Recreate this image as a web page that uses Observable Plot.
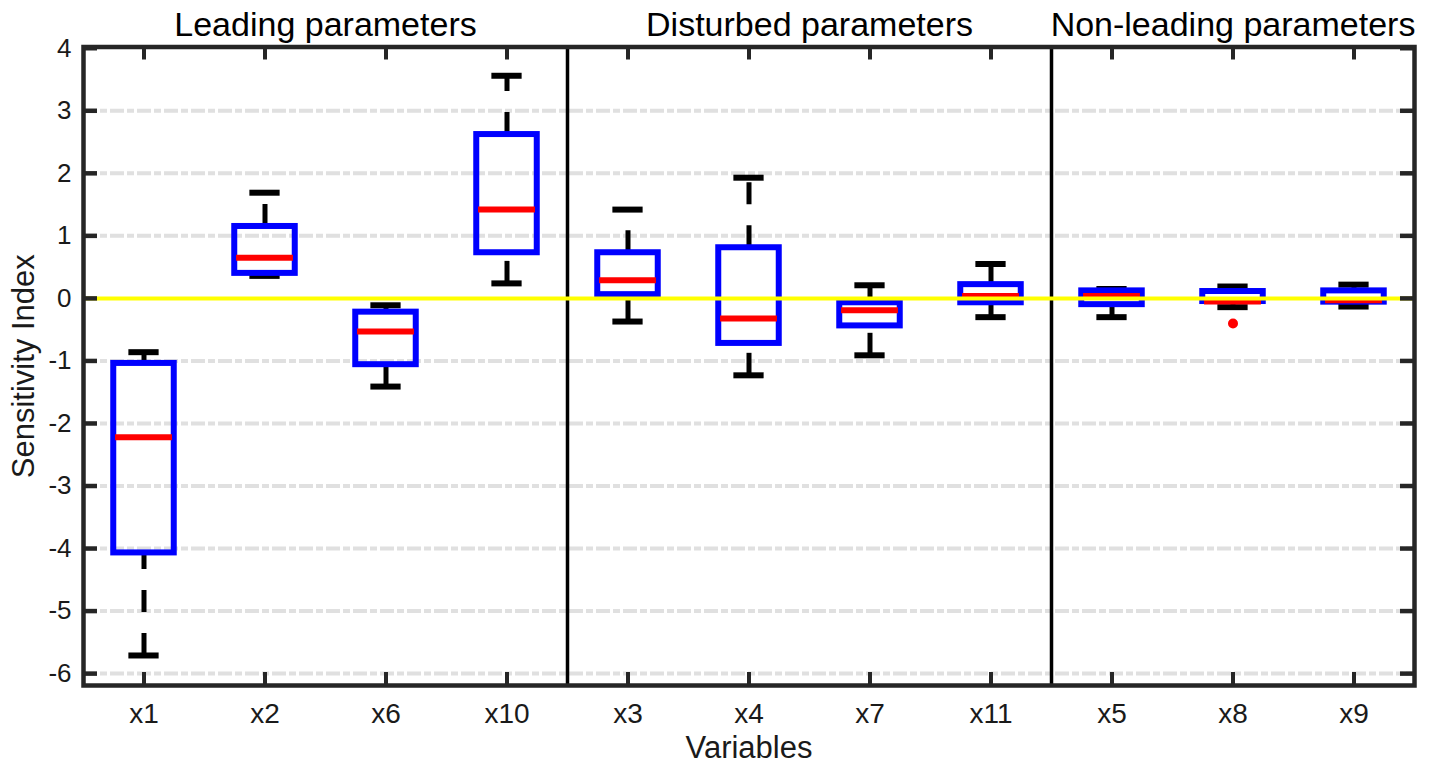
<!DOCTYPE html>
<html>
<head>
<meta charset="utf-8">
<script src="https://cdn.jsdelivr.net/npm/d3@7"></script>
<script src="https://cdn.jsdelivr.net/npm/@observablehq/plot@0.6"></script>
<style>
  html, body { margin: 0; padding: 0; background: #fff; }
  #chart svg { display: block; font-family: "Liberation Sans", Arial, Helvetica, sans-serif; }
</style>
</head>
<body>
<div id="chart"></div>
<script>
// ---- data ----
const categories = ["x1", "x2", "x6", "x10", "x3", "x4", "x7", "x11", "x5", "x8", "x9"];
const groupNames = ["Leading parameters", "Disturbed parameters", "Non-leading parameters"];
const groupSizes = [4, 4, 3];
const whiskerLow  = [-5.71, 0.36, -1.41, 0.24, -0.37, -1.23, -0.91, -0.30, -0.30, -0.14, -0.13];
const quartile1   = [-4.07, 0.40, -1.06, 0.73,  0.06, -0.72, -0.44, -0.07, -0.10, -0.05, -0.06];
const medians     = [-2.22, 0.65, -0.53, 1.42,  0.29, -0.32, -0.19,  0.04,  0.04, -0.05, -0.03];
const quartile3   = [-1.04, 1.15, -0.22, 2.62,  0.73,  0.81, -0.07,  0.22,  0.12,  0.11,  0.12];
const whiskerHigh = [-0.86, 1.69, -0.11, 3.56,  1.42,  1.93,  0.21,  0.55,  0.15,  0.19,  0.22];
const outlierVars   = ["x8"];
const outlierValues = [-0.40];
const yTicks = [-6, -5, -4, -3, -2, -1, 0, 1, 2, 3, 4];
const referenceLine = [0];
const yLabel = "Sensitivity Index";
const xLabel = "Variables";

// ---- derived tables ----
const pos = categories.map((_, i) => i + 1);
const stats = categories.map((c, i) => ({
  name: c, i: i + 1,
  lo: whiskerLow[i], q1: quartile1[i], med: medians[i], q3: quartile3[i], hi: whiskerHigh[i]
}));
const outliers = outlierVars.map((v, k) => ({i: categories.indexOf(v) + 1, value: outlierValues[k]}));
let acc = 0;
const groups = groupNames.map((g, k) => {
  const start = acc + 0.5;
  acc += groupSizes[k];
  return {name: g, center: (start + acc + 0.5) / 2, end: acc + 0.5};
});
const dividers = groups.slice(0, -1).map(g => g.end);

const W = 1439, H = 766;
const mT = 46.5, mB = 81, mL = 83, mR = 25;
const plotW = W - mL - mR, plotH = H - mT - mB;
const axisColor = "#262626";
const tickLen = 14;

const chart = Plot.plot({
  width: W, height: H,
  marginTop: mT, marginBottom: mB, marginLeft: mL, marginRight: mR,
  style: {fontFamily: '"Liberation Sans", Arial, Helvetica, sans-serif', background: "#fff", overflow: "visible"},
  x: {domain: [0.5, categories.length + 0.5]},
  y: {domain: [-6.19, 4.02]},
  marks: [
    // grid
    Plot.ruleY(yTicks.filter(d => d !== 0 && d !== yTicks[yTicks.length - 1]), {
      stroke: "#e0e0e0", strokeWidth: 4, strokeDasharray: "14,3,7,3"
    }),
    // group dividers
    Plot.ruleX(dividers, {stroke: "#000", strokeWidth: 3.5}),
    // whiskers (dashed, drawn bottom to top)
    Plot.ruleX(stats, {x: "i", y1: "lo", y2: "q1", stroke: "#000", strokeWidth: 5, strokeDasharray: "22,21"}),
    Plot.ruleX(stats, {x: "i", y1: "q3", y2: "hi", stroke: "#000", strokeWidth: 5, strokeDasharray: "22,21"}),
    // caps
    Plot.ruleY(stats, {y: "lo", x1: d => d.i - 0.125, x2: d => d.i + 0.125, stroke: "#000", strokeWidth: 6}),
    Plot.ruleY(stats, {y: "hi", x1: d => d.i - 0.125, x2: d => d.i + 0.125, stroke: "#000", strokeWidth: 6}),
    // boxes
    Plot.rect(stats, {x1: d => d.i - 0.25, x2: d => d.i + 0.25, y1: "q1", y2: "q3",
      fill: "none", stroke: "#0000ff", strokeWidth: 6}),
    // medians
    Plot.ruleY(stats, {y: "med", x1: d => d.i - 0.235, x2: d => d.i + 0.235, stroke: "#ff0000", strokeWidth: 6}),
    // outliers
    Plot.dot(outliers, {x: "i", y: "value", r: 5, fill: "#ff0000", stroke: "none"}),
    // zero line
    Plot.ruleY(referenceLine, {stroke: "#ffff00", strokeWidth: 4}),
    // frame
    Plot.frame({stroke: axisColor, strokeWidth: 4.5}),
    // inward ticks
    Plot.ruleY(yTicks, {stroke: axisColor, strokeWidth: 4.5, insetRight: plotW - tickLen}),
    Plot.ruleY(yTicks, {stroke: axisColor, strokeWidth: 4.5, insetLeft: plotW - tickLen}),
    Plot.ruleX(pos, {stroke: axisColor, strokeWidth: 4, insetBottom: plotH - 13}),
    Plot.ruleX(pos, {stroke: axisColor, strokeWidth: 4, insetTop: plotH - 13}),
    // axes labels
    Plot.axisY(yTicks, {tickSize: 0, tickPadding: 12, fontSize: 26, fill: "#1a1a1a", tickFormat: d => String(d), label: null}),
    Plot.axisX(pos, {tickSize: 0, tickPadding: 18, fontSize: 28, fill: "#1a1a1a", tickFormat: i => categories[i - 1], label: null}),
    Plot.text([xLabel], {frameAnchor: "bottom", textAnchor: "middle", lineAnchor: "bottom", dy: 72, fontSize: 31, fill: "#1a1a1a", text: d => d}),
    Plot.text([yLabel], {frameAnchor: "left", textAnchor: "middle", lineAnchor: "bottom", rotate: -90, dx: -50, fontSize: 31, fill: "#1a1a1a", text: d => d}),
    // group titles
    Plot.text(groups, {x: "center", text: "name", frameAnchor: "top", textAnchor: "middle", lineAnchor: "bottom", dy: -11.5, fontSize: 34, fill: "#000"})
  ]
});
document.getElementById("chart").appendChild(chart);
</script>
</body>
</html>
